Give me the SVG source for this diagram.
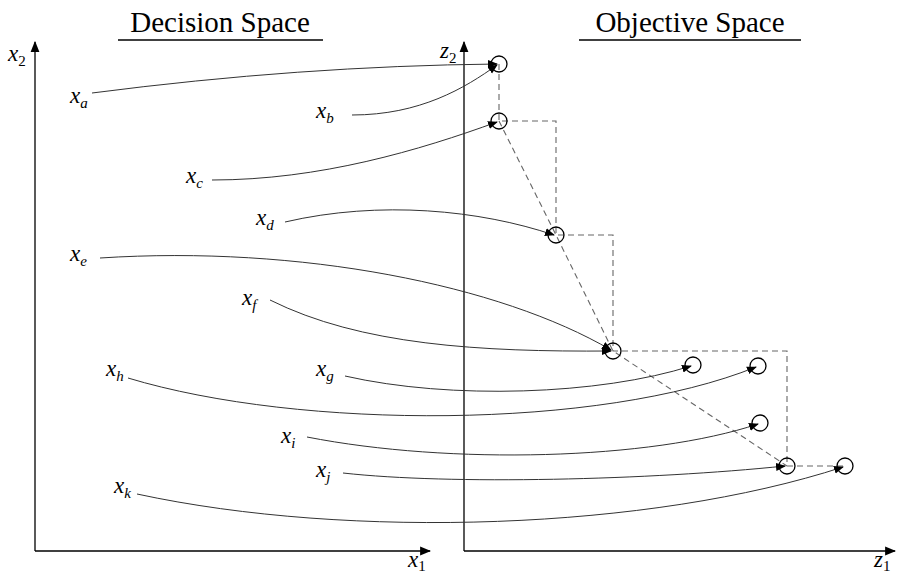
<svg xmlns="http://www.w3.org/2000/svg" width="898" height="576" viewBox="0 0 898 576">
<style>
.ax{stroke:#000;stroke-width:1.3;fill:none}
.cv{stroke:#333;stroke-width:1;fill:none}
.ds{stroke:#666;stroke-width:1.1;fill:none;stroke-dasharray:6,4}
.pt{stroke:#000;stroke-width:1.3;fill:none}
.m{font-style:italic;font-size:23px;fill:#000}
.s{font-size:15px}
.u{font-style:normal}
</style>
<defs>
<marker id="ah" viewBox="0 0 10 10" refX="9" refY="5" markerWidth="10" markerHeight="10" markerUnits="userSpaceOnUse" orient="auto">
<path d="M0,1 L10,5 L0,9 Z" fill="#000"/>
</marker>
<marker id="axh" viewBox="0 0 10 10" refX="9" refY="5" markerWidth="11" markerHeight="11" markerUnits="userSpaceOnUse" orient="auto">
<path d="M0,1 L10,5 L0,9 Z" fill="#000"/>
</marker>
</defs>
<rect width="898" height="576" fill="#fff"/>
<g font-family="Liberation Serif, DejaVu Serif, serif">
<g id="titles">
<text x="220" y="32" font-size="29" text-anchor="middle">Decision Space</text>
<line x1="118" y1="40" x2="323" y2="40" stroke="#000" stroke-width="1.3"/>
<text x="690" y="32" font-size="29" text-anchor="middle">Objective Space</text>
<line x1="579" y1="40" x2="801" y2="40" stroke="#000" stroke-width="1.3"/>
</g>
<g id="axes">
<path class="ax" d="M35,551 L35,42" marker-end="url(#axh)"/>
<path class="ax" d="M35,551 L430,551" marker-end="url(#axh)"/>
<path class="ax" d="M464,551 L464,42" marker-end="url(#axh)"/>
<path class="ax" d="M464,551 L895,551" marker-end="url(#axh)"/>
<text class="m" x="8" y="61">x<tspan class="s u" dy="5">2</tspan></text>
<text class="m" x="408" y="567">x<tspan class="s u" dy="4">1</tspan></text>
<text class="m" x="874" y="567">z<tspan class="s u" dy="4">1</tspan></text>
<text class="m" x="440" y="58">z<tspan class="s u" dy="5">2</tspan></text>
</g>
<g id="dashed">
<path class="ds" d="M499,64 L499,121 L556,121 L556,235 L613,235 L613,351 L787,351 L787,466 L845,466"/>
<path class="ds" d="M499,121 L556,235 L613,351 L787,466"/>
</g>
<g id="connectors">
<path class="cv" d="M92,93 Q300,66 497,64" marker-end="url(#ah)"/>
<path class="cv" d="M352,115 C420,115 465,88 497,65" marker-end="url(#ah)"/>
<path class="cv" d="M212,180 C320,180 420,150 497,122" marker-end="url(#ah)"/>
<path class="cv" d="M285,222 C380,200 480,210 554,235" marker-end="url(#ah)"/>
<path class="cv" d="M100,258 C300,245 500,285 611,350" marker-end="url(#ah)"/>
<path class="cv" d="M270,300 C360,345 480,352 611,351" marker-end="url(#ah)"/>
<path class="cv" d="M345,376 C450,400 600,395 691,366" marker-end="url(#ah)"/>
<path class="cv" d="M128,378 C300,430 600,430 756,367" marker-end="url(#ah)"/>
<path class="cv" d="M307,437 C450,465 650,460 758,424" marker-end="url(#ah)"/>
<path class="cv" d="M343,473 C450,485 650,480 785,466" marker-end="url(#ah)"/>
<path class="cv" d="M137,494 C350,540 650,530 843,467" marker-end="url(#ah)"/>
</g>
<g id="labels">
<text class="m" x="70" y="103">x<tspan class="s" dy="5">a</tspan></text>
<text class="m" x="316" y="118">x<tspan class="s" dy="5">b</tspan></text>
<text class="m" x="186" y="183">x<tspan class="s" dy="5">c</tspan></text>
<text class="m" x="256" y="225">x<tspan class="s" dy="5">d</tspan></text>
<text class="m" x="70" y="261">x<tspan class="s" dy="5">e</tspan></text>
<text class="m" x="242" y="305">x<tspan class="s" dy="5">f</tspan></text>
<text class="m" x="316" y="376">x<tspan class="s" dy="5">g</tspan></text>
<text class="m" x="106" y="376">x<tspan class="s" dy="5">h</tspan></text>
<text class="m" x="281" y="443">x<tspan class="s" dy="5">i</tspan></text>
<text class="m" x="316" y="477">x<tspan class="s" dy="5">j</tspan></text>
<text class="m" x="114" y="493">x<tspan class="s" dy="5">k</tspan></text>
</g>
</g>
<g id="points">
<circle id="pa" class="pt" cx="499" cy="64" r="8"/>
<circle id="pb" class="pt" cx="499" cy="121" r="8"/>
<circle id="pd" class="pt" cx="556" cy="235" r="8"/>
<circle id="pf" class="pt" cx="613" cy="351" r="8"/>
<circle id="pg" class="pt" cx="693" cy="365" r="8"/>
<circle id="ph" class="pt" cx="758" cy="366" r="8"/>
<circle id="pi" class="pt" cx="760" cy="423" r="8"/>
<circle id="pj" class="pt" cx="787" cy="466" r="8"/>
<circle id="pk" class="pt" cx="845" cy="466" r="8"/>
</g>
</svg>
